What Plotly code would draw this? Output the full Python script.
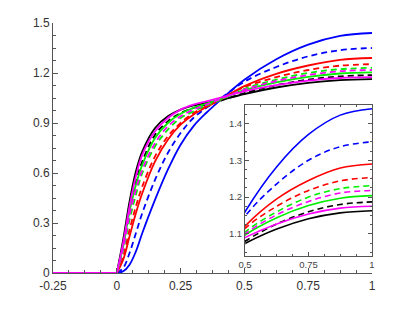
import plotly.graph_objects as go

# x grid of the profiles
x_grid = [0, 0.025, 0.05, 0.075, 0.1, 0.15, 0.2, 0.25, 0.3, 0.35, 0.4, 0.5, 0.625, 0.75, 0.875, 1.0]
x_base = [-0.25, 0]
y_base = [0, 0]

black_solid = [0, 0.20, 0.43, 0.61, 0.73, 0.87, 0.94, 0.98, 1.005, 1.02, 1.035, 1.074, 1.113, 1.141, 1.157, 1.163]
black_dashed = [0, 0.17, 0.38, 0.55, 0.67, 0.83, 0.91, 0.96, 0.99, 1.01, 1.03, 1.08, 1.127, 1.160, 1.180, 1.187]
magenta_solid = [0, 0.18, 0.40, 0.58, 0.71, 0.85, 0.93, 0.98, 1.01, 1.03, 1.05, 1.09, 1.127, 1.154, 1.170, 1.175]
magenta_dashed = [0, 0.15, 0.35, 0.50, 0.62, 0.78, 0.88, 0.94, 0.98, 1.01, 1.04, 1.10, 1.152, 1.188, 1.211, 1.218]
green_solid = [0, 0.16, 0.37, 0.53, 0.65, 0.81, 0.90, 0.955, 0.99, 1.015, 1.04, 1.097, 1.144, 1.177, 1.197, 1.204]
green_dashed = [0, 0.14, 0.32, 0.47, 0.60, 0.76, 0.86, 0.93, 0.97, 1.005, 1.035, 1.105, 1.160, 1.200, 1.223, 1.231]
red_solid = [0, 0.08, 0.22, 0.36, 0.48, 0.67, 0.80, 0.89, 0.95, 0.995, 1.035, 1.121, 1.195, 1.245, 1.279, 1.290]
red_dashed = [0, 0.10, 0.26, 0.40, 0.52, 0.70, 0.82, 0.90, 0.96, 1.0, 1.035, 1.115, 1.175, 1.218, 1.244, 1.253]
blue_solid = [0, 0.01, 0.05, 0.13, 0.24, 0.44, 0.62, 0.77, 0.88, 0.96, 1.03, 1.16, 1.2825, 1.37, 1.4225, 1.44]
blue_dashed = [0, 0.03, 0.12, 0.24, 0.36, 0.56, 0.72, 0.84, 0.93, 0.99, 1.04, 1.148, 1.236, 1.30, 1.337, 1.35]

main_xticks = [-0.25, 0, 0.25, 0.5, 0.75, 1]
main_xlabels = ["-0.25", "0", "0.25", "0.5", "0.75", "1"]
main_yticks = [0, 0.3, 0.6, 0.9, 1.2, 1.5]
main_ylabels = ["0", "0.3", "0.6", "0.9", "1.2", "1.5"]
inset_xticks = [0.5, 0.75, 1]
inset_xlabels = ["0.5", "0.75", "1"]
inset_yticks = [1.1, 1.2, 1.3, 1.4]
inset_ylabels = ["1.1", "1.2", "1.3", "1.4"]

series = [
    (black_solid, "#000000", "solid"),
    (black_dashed, "#000000", "6px,4px"),
    (blue_solid, "#0000ff", "solid"),
    (blue_dashed, "#0000ff", "6px,4px"),
    (red_solid, "#ff0000", "solid"),
    (red_dashed, "#ff0000", "6px,4px"),
    (green_solid, "#00ee00", "solid"),
    (green_dashed, "#00ee00", "6px,4px"),
    (magenta_dashed, "#ff00ff", "6px,4px"),
    (magenta_solid, "#ff00ff", "solid"),
]

fig = go.Figure()
for ys, col, dash in series:
    fig.add_trace(go.Scatter(x=x_base, y=y_base, mode="lines",
                             line=dict(color=col, width=1.8, dash=dash),
                             showlegend=False, xaxis="x", yaxis="y"))
    fig.add_trace(go.Scatter(x=x_grid, y=ys, mode="lines",
                             line=dict(color=col, width=1.8, dash=dash, shape="spline"),
                             showlegend=False, xaxis="x", yaxis="y"))
for ys, col, dash in series:
    fig.add_trace(go.Scatter(x=x_grid, y=ys, mode="lines",
                             line=dict(color=col, width=1.6, dash=dash, shape="spline"),
                             showlegend=False, xaxis="x2", yaxis="y2"))

axcol = "#555555"
fnt = dict(family="Liberation Sans, Arial, sans-serif", size=12, color="#333333")
fnt_small = dict(family="Liberation Sans, Arial, sans-serif", size=9.5, color="#444444")

fig.update_layout(
    width=404, height=301,
    margin=dict(l=45, r=40, t=15, b=36),
    paper_bgcolor="white", plot_bgcolor="white",
    showlegend=False,
    xaxis=dict(range=[-0.25, 1], domain=[0, 1], anchor="y", automargin=False,
               tickvals=main_xticks, ticktext=main_xlabels, ticklabelstandoff=2,
               showgrid=False, zeroline=False, showline=True, linecolor=axcol, linewidth=1,
               ticks="inside", ticklen=5, tickcolor=axcol, tickfont=fnt,
               minor=dict(dtick=0.0625, ticks="inside", ticklen=3, tickcolor=axcol, showgrid=False)),
    yaxis=dict(range=[0, 1.5], domain=[0, 1], anchor="x", automargin=False,
               tickvals=main_yticks, ticktext=main_ylabels,
               showgrid=False, zeroline=False, showline=True, linecolor=axcol, linewidth=1,
               ticks="inside", ticklen=5, tickcolor=axcol, tickfont=fnt,
               minor=dict(dtick=0.075, ticks="inside", ticklen=3, tickcolor=axcol, showgrid=False)),
    xaxis2=dict(range=[0.5, 1], domain=[0.602, 1.0], anchor="y2", automargin=False,
                tickvals=inset_xticks, ticktext=inset_xlabels,
                showgrid=False, zeroline=False, showline=True, mirror="ticks",
                linecolor=axcol, linewidth=1, ticks="inside", ticklen=4, tickcolor=axcol,
                tickfont=fnt_small,
                minor=dict(dtick=0.0625, ticks="inside", ticklen=2, tickcolor=axcol, showgrid=False)),
    yaxis2=dict(range=[1.04, 1.45], domain=[0.068, 0.672], anchor="x2", automargin=False,
                tickvals=inset_yticks, ticktext=inset_ylabels,
                showgrid=False, zeroline=False, showline=True, mirror="ticks",
                linecolor=axcol, linewidth=1, ticks="inside", ticklen=4, tickcolor=axcol,
                tickfont=fnt_small,
                minor=dict(dtick=0.025, ticks="inside", ticklen=2, tickcolor=axcol, showgrid=False)),
)

fig.write_html("out.html")
